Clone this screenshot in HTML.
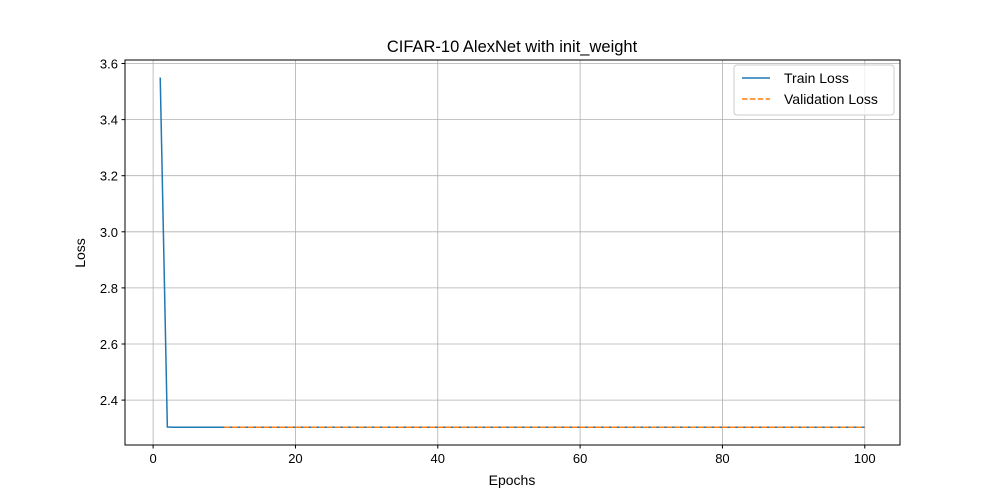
<!DOCTYPE html>
<html><head><meta charset="utf-8"><style>
body{margin:0;background:#fff}
svg{display:block;font-family:"Liberation Sans","DejaVu Sans",sans-serif}
</style></head><body>
<svg id="chart" width="1000" height="500">
<rect width="1000" height="500" fill="#fff"/>
<text x="512" y="52" text-anchor="middle" font-size="16.5">CIFAR-10 AlexNet with init_weight</text>
<g id="grid"></g><g id="ticks"></g><g id="series"></g>
<rect x="125" y="60" width="775" height="385" fill="none" stroke="#000" stroke-width="1"/>
<text x="512" y="485" text-anchor="middle" font-size="14">Epochs</text>
<text x="0" y="0" transform="translate(85,253) rotate(-90)" text-anchor="middle" font-size="14">Loss</text>
<g>
<rect x="734" y="65" width="160" height="50" rx="3" fill="#fff" fill-opacity="0.8" stroke="#ccc"/>
<g><line x1="742" y1="78" x2="770" y2="78" stroke="#1f77b4" stroke-width="1.5"/><text x="784" y="83" font-size="14">Train Loss</text></g>
<g><line x1="742" y1="99" x2="770" y2="99" stroke="#ff7f0e" stroke-width="1.5" stroke-dasharray="5.5,2.4"/><text x="784" y="104" font-size="14">Validation Loss</text></g>
</g>
</svg>
<script>
const xTicks=[0,20,40,60,80,100];
const yTicks=[2.4,2.6,2.8,3.0,3.2,3.4,3.6];
const trainEpochs=[1,2,3,4,5,6,7,8,9,10,20,30,40,50,60,70,80,90,100];
const trainLoss=[3.55,2.304,2.303,2.303,2.303,2.303,2.303,2.303,2.303,2.303,2.303,2.303,2.303,2.303,2.303,2.303,2.303,2.303,2.303];
const valEpochs=[10,20,30,40,50,60,70,80,90,100];
const valLoss=[2.303,2.303,2.303,2.303,2.303,2.303,2.303,2.303,2.303,2.303];
const X0=125,X1=900,Y0=445,Y1=60,xmin=-3.95,xmax=104.95,ymin=2.2399,ymax=3.6125;
const sx=v=>X0+(v-xmin)/(xmax-xmin)*(X1-X0);
const sy=v=>Y0-(v-ymin)/(ymax-ymin)*(Y0-Y1);
const NS="http://www.w3.org/2000/svg";
function mk(p,t,a){const e=document.createElementNS(NS,t);for(const k in a)e.setAttribute(k,a[k]);p.appendChild(e);return e;}
const g=document.getElementById('grid'),tk=document.getElementById('ticks'),s=document.getElementById('series');
xTicks.forEach(v=>{const x=sx(v);
const l=mk(g,'line',{x1:x,x2:x,y1:Y1,y2:Y0,stroke:'#b0b0b0','stroke-width':0.8});


mk(tk,'line',{x1:x,x2:x,y1:Y0,y2:Y0+3.5,stroke:'#000'});
const t=mk(tk,'text',{x:x,y:Y0+18,'text-anchor':'middle','font-size':13});t.textContent=v;

});
yTicks.forEach(v=>{const y=sy(v);
const l=mk(g,'line',{x1:X0,x2:X1,y1:y,y2:y,stroke:'#b0b0b0','stroke-width':0.8});


mk(tk,'line',{x1:X0-3.5,x2:X0,y1:y,y2:y,stroke:'#000'});
const t=mk(tk,'text',{x:X0-7,y:y+5,'text-anchor':'end','font-size':13});t.textContent=v.toFixed(1);

});
const tp=mk(s,'polyline',{points:trainEpochs.map((e,i)=>sx(e)+','+sy(trainLoss[i])).join(' '),fill:'none',stroke:'#1f77b4','stroke-width':1.5});


const vp=mk(s,'polyline',{points:valEpochs.map((e,i)=>sx(e)+','+sy(valLoss[i])).join(' '),fill:'none',stroke:'#ff7f0e','stroke-width':1.5,'stroke-dasharray':'5.5,2.4'});


</script>
</body></html>
